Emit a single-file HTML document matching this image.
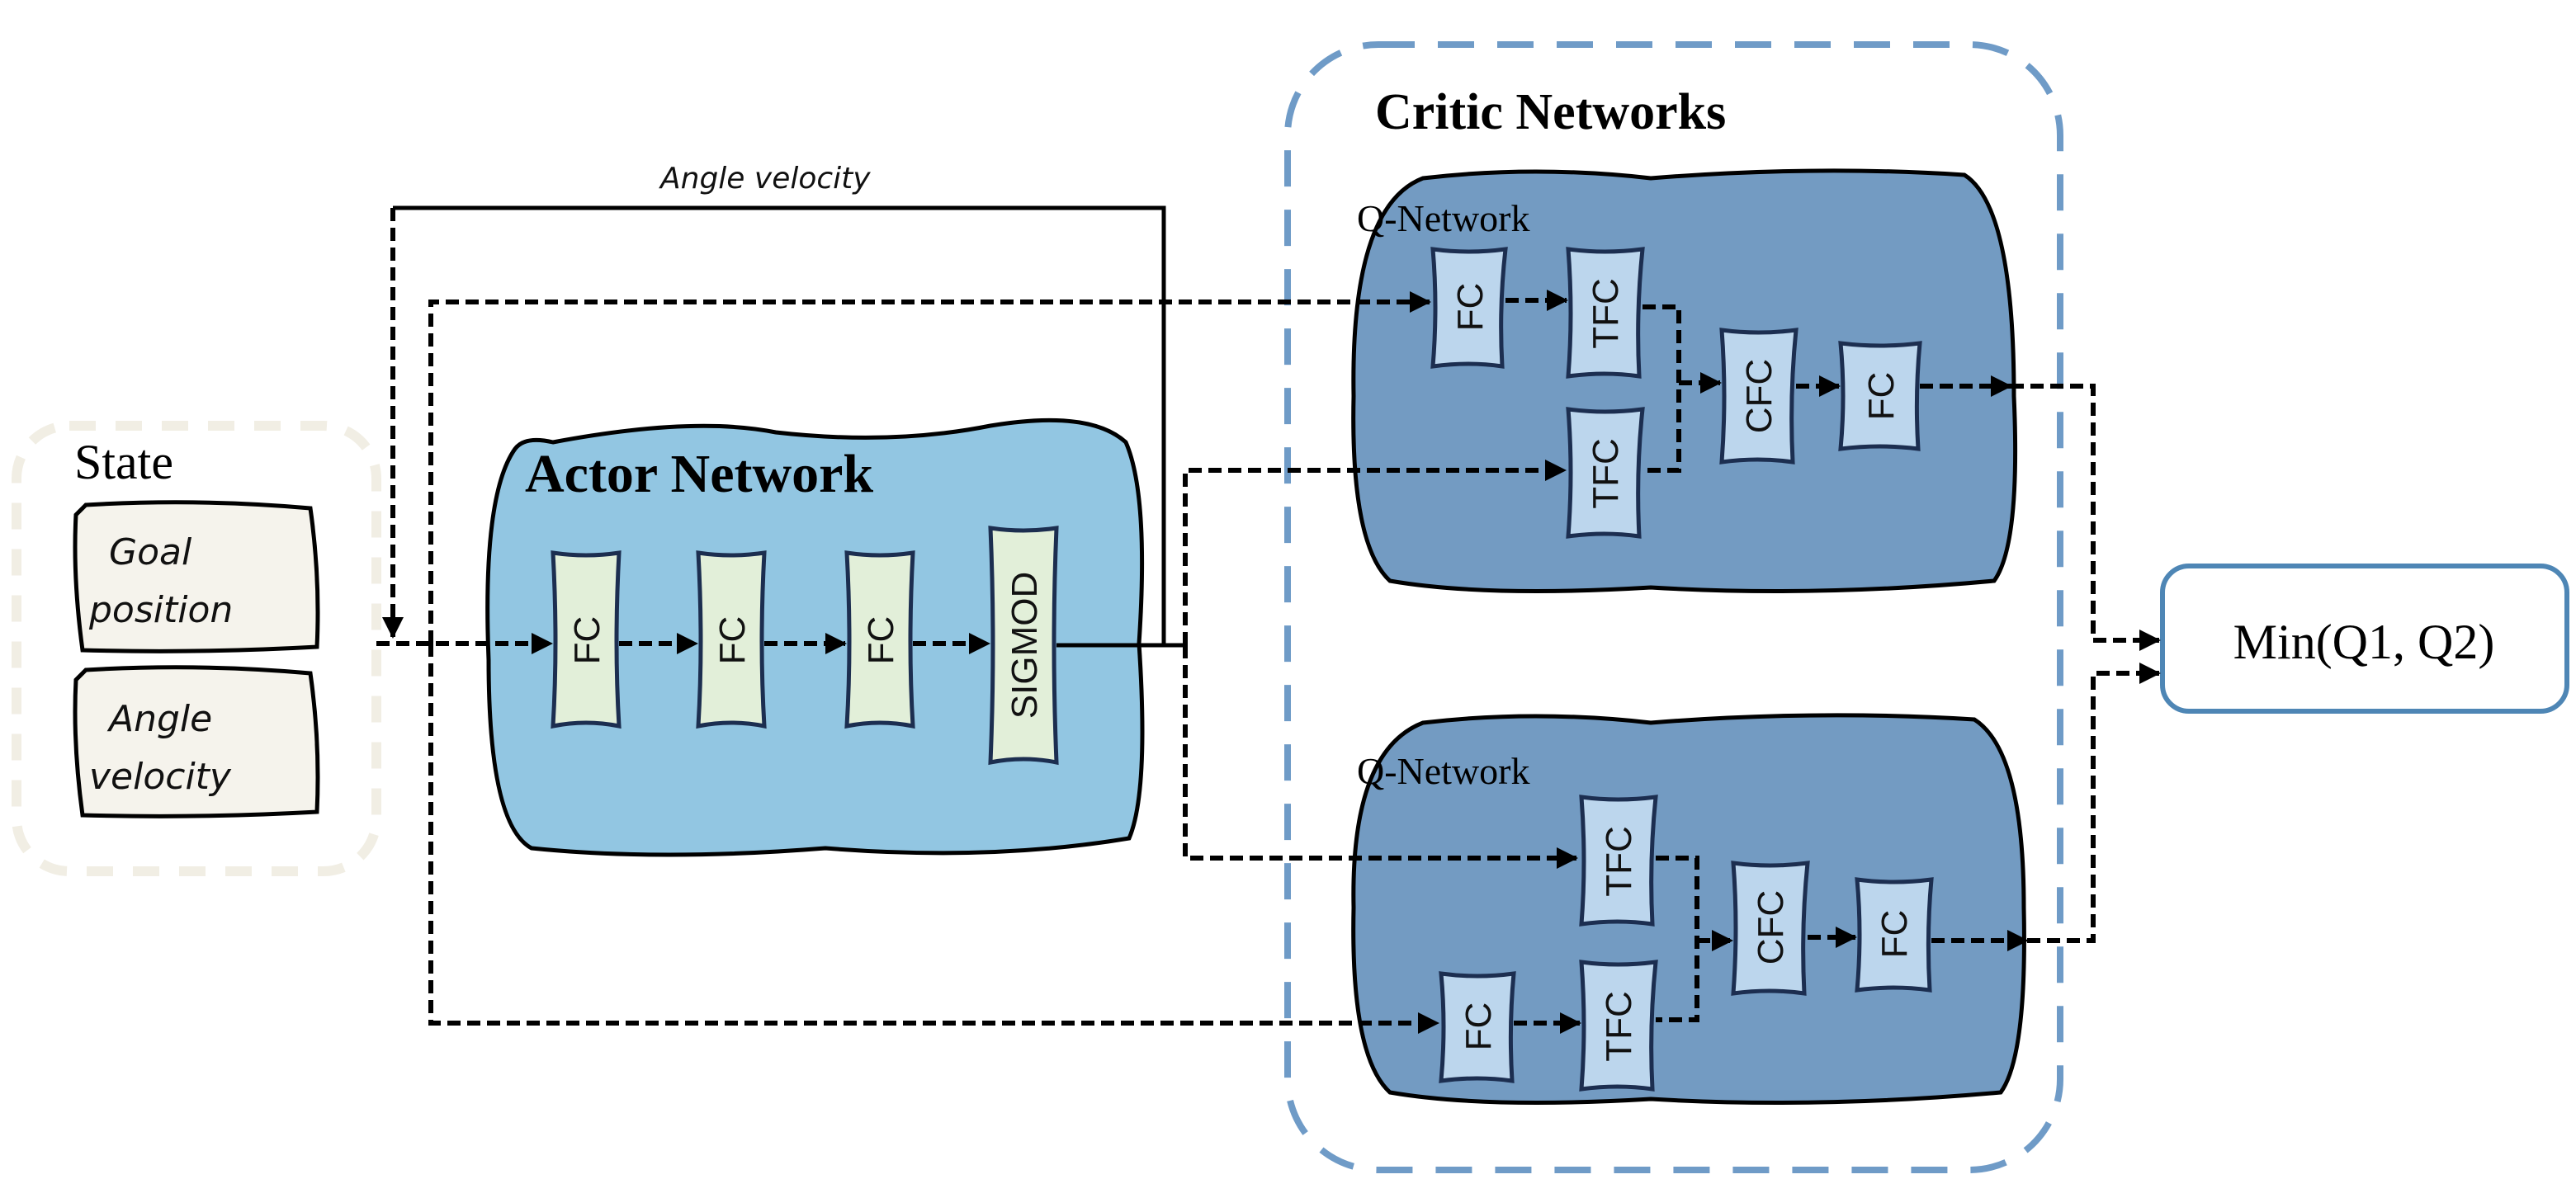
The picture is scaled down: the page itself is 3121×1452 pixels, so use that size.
<!DOCTYPE html>
<html><head><meta charset="utf-8"><style>
html,body{margin:0;padding:0;background:#fff;}
svg{display:block;}
.lbl{font-family:"Liberation Sans",sans-serif;font-size:22px;fill:#111;}
.ser{font-family:"Liberation Serif",serif;}
.hand{font-family:"DejaVu Sans",sans-serif;font-style:italic;fill:#111;}
</style></head><body>
<svg width="3121" height="1452" viewBox="0 0 1560.5 726" xmlns="http://www.w3.org/2000/svg">
<defs>
<marker id="ar" markerWidth="13" markerHeight="13" refX="12" refY="6.5" orient="auto" markerUnits="userSpaceOnUse">
<path d="M0,0 L13,6.5 L0,13 z" fill="#000"/></marker>
</defs>

<!-- State -->
<rect x="10" y="258" width="218" height="270" rx="32" fill="none" stroke="#f1eee4" stroke-width="6" stroke-dasharray="16 12"/>
<text x="45" y="290" class="ser" font-size="30">State</text>
<path d="M52,306 Q120,302 188,308 Q194,350 192,392 Q120,396 50,394 Q44,350 46,312 Z" fill="#f5f3ec" stroke="#000" stroke-width="2.5"/>
<path d="M52,406 Q120,402 188,408 Q194,450 192,492 Q120,496 50,494 Q44,450 46,412 Z" fill="#f5f3ec" stroke="#000" stroke-width="2.5"/>
<text x="66" y="342" class="hand" font-size="22">Goal</text>
<text x="54" y="377" class="hand" font-size="22">position</text>
<text x="66" y="443" class="hand" font-size="22">Angle</text>
<text x="54" y="478" class="hand" font-size="22">velocity</text>

<!-- Actor -->
<path d="M335,268 Q420,252 470,262 Q540,270 600,258 Q660,248 682,268 Q696,300 690,390 Q696,480 684,508 Q600,522 500,514 Q400,522 322,514 Q296,500 296,400 Q292,300 312,272 Q318,264 335,268 Z" fill="#92c6e2" stroke="#000" stroke-width="2.5"/>
<text x="318" y="298" class="ser" font-size="33" font-weight="bold">Actor Network</text>

<!-- Critic container -->
<rect x="780" y="27" width="468" height="682" rx="55" fill="none" stroke="#6f9bc7" stroke-width="4" stroke-dasharray="22 14"/>
<text x="833" y="78" class="ser" font-size="31" font-weight="bold">Critic Networks</text>

<!-- Q networks -->
<path d="M862,108 Q930,100 1000,108 Q1100,100 1190,106 Q1220,125 1220,240 Q1224,330 1208,352 Q1100,362 1000,356 Q900,362 842,352 Q818,330 820,240 Q818,125 862,108 Z" fill="#739bc2" stroke="#000" stroke-width="2.5"/>
<path d="M862,438 Q930,430 1000,438 Q1100,430 1196,436 Q1226,455 1226,550 Q1228,640 1212,662 Q1100,672 1000,666 Q900,672 842,662 Q818,640 820,550 Q818,455 862,438 Z" fill="#739bc2" stroke="#000" stroke-width="2.5"/>
<text x="822" y="140" class="ser" font-size="23">Q-Network</text>
<text x="822" y="475" class="ser" font-size="23">Q-Network</text>

<!-- Min -->
<rect x="1310" y="343" width="245" height="88" rx="16" fill="#fff" stroke="#4e86b5" stroke-width="3"/>
<text x="1432" y="399" class="ser" font-size="30" text-anchor="middle">Min(Q1, Q2)</text>

<!-- connectors -->
<g fill="none" stroke="#000" stroke-width="2.5">
<polyline points="640,391 705,391 705,126 238,126"/>
<polyline points="640,391 718,391"/>
</g>
<g fill="none" stroke="#000" stroke-width="3" stroke-dasharray="8 4">
<polyline points="238,126 238,386" marker-end="url(#ar)"/>
<polyline points="228,390 334,390" marker-end="url(#ar)"/>
<polyline points="375,390 422,390" marker-end="url(#ar)"/>
<polyline points="463,390 512,390" marker-end="url(#ar)"/>
<polyline points="553,390 599,390" marker-end="url(#ar)"/>
<polyline points="261,390 261,183 866,183" marker-end="url(#ar)"/>
<polyline points="261,390 261,620 871,620" marker-end="url(#ar)"/>
<polyline points="718,391 718,285 948,285" marker-end="url(#ar)"/>
<polyline points="718,391 718,520 955,520" marker-end="url(#ar)"/>
<polyline points="912,182 949,182" marker-end="url(#ar)"/>
<polyline points="995,186 1017,186 1017,285 995,285"/>
<polyline points="1017,232 1042,232" marker-end="url(#ar)"/>
<polyline points="1088,234 1114,234" marker-end="url(#ar)"/>
<polyline points="1163,234 1218,234" marker-end="url(#ar)"/>
<polyline points="1218,234 1268,234 1268,388 1308,388" marker-end="url(#ar)"/>
<polyline points="917,620 957,620" marker-end="url(#ar)"/>
<polyline points="1003,520 1028,520 1028,618 1003,618"/>
<polyline points="1028,570 1049,570" marker-end="url(#ar)"/>
<polyline points="1095,568 1124,568" marker-end="url(#ar)"/>
<polyline points="1170,570 1228,570" marker-end="url(#ar)"/>
<polyline points="1228,570 1268,570 1268,408 1308,408" marker-end="url(#ar)"/>
</g>
<text x="400" y="114" class="hand" font-size="18">Angle  velocity</text>

<!-- Actor layer boxes -->
<g stroke="#1c2e50" stroke-width="2.5" fill="#e2efd9">
<path d="M335,335 Q355,338 375,335 Q372,390 375,440 Q355,436 335,440 Q338,390 335,335 Z"/>
<path d="M423,335 Q443,338 463,335 Q460,390 463,440 Q443,436 423,440 Q426,390 423,335 Z"/>
<path d="M513,335 Q533,338 553,335 Q550,390 553,440 Q533,436 513,440 Q516,390 513,335 Z"/>
<path d="M600,320 Q620,323 640,320 Q637,390 640,462 Q620,458 600,462 Q603,390 600,320 Z"/>
</g>
<g class="lbl">
<text transform="translate(363,388) rotate(-90)" text-anchor="middle">FC</text>
<text transform="translate(451,388) rotate(-90)" text-anchor="middle">FC</text>
<text transform="translate(541,388) rotate(-90)" text-anchor="middle">FC</text>
<text transform="translate(628,391) rotate(-90)" text-anchor="middle">SIGMOD</text>
</g>

<!-- Q boxes -->
<g stroke="#1c2e50" stroke-width="2.5" fill="#bcd6ed">
<path d="M868,151 Q890,154 912,151 Q908,186 910,222 Q890,219 868,222 Q871,186 868,151 Z"/>
<path d="M950,151 Q972,154 995,151 Q991,190 993,228 Q972,225 950,228 Q953,190 950,151 Z"/>
<path d="M950,248 Q972,251 995,248 Q991,286 993,325 Q972,322 950,325 Q953,286 950,248 Z"/>
<path d="M1043,200 Q1065,203 1088,200 Q1084,240 1086,280 Q1065,277 1043,280 Q1046,240 1043,200 Z"/>
<path d="M1115,208 Q1139,211 1163,208 Q1160,240 1162,272 Q1139,269 1115,272 Q1118,240 1115,208 Z"/>
<path d="M958,483 Q980,486 1003,483 Q999,522 1001,560 Q980,557 958,560 Q961,522 958,483 Z"/>
<path d="M873,590 Q895,593 917,590 Q914,622 916,655 Q895,652 873,655 Q876,622 873,590 Z"/>
<path d="M958,583 Q980,586 1003,583 Q999,622 1001,660 Q980,657 958,660 Q961,622 958,583 Z"/>
<path d="M1050,523 Q1072,526 1095,523 Q1091,562 1093,602 Q1072,599 1050,602 Q1053,562 1050,523 Z"/>
<path d="M1125,533 Q1147,536 1170,533 Q1167,566 1169,600 Q1147,597 1125,600 Q1128,566 1125,533 Z"/>
</g>
<g class="lbl">
<text transform="translate(898,186) rotate(-90)" text-anchor="middle">FC</text>
<text transform="translate(980,190) rotate(-90)" text-anchor="middle">TFC</text>
<text transform="translate(980,287) rotate(-90)" text-anchor="middle">TFC</text>
<text transform="translate(1073,240) rotate(-90)" text-anchor="middle">CFC</text>
<text transform="translate(1147,240) rotate(-90)" text-anchor="middle">FC</text>
<text transform="translate(988,522) rotate(-90)" text-anchor="middle">TFC</text>
<text transform="translate(903,622) rotate(-90)" text-anchor="middle">FC</text>
<text transform="translate(988,622) rotate(-90)" text-anchor="middle">TFC</text>
<text transform="translate(1080,562) rotate(-90)" text-anchor="middle">CFC</text>
<text transform="translate(1155,566) rotate(-90)" text-anchor="middle">FC</text>
</g>
</svg>
</body></html>
